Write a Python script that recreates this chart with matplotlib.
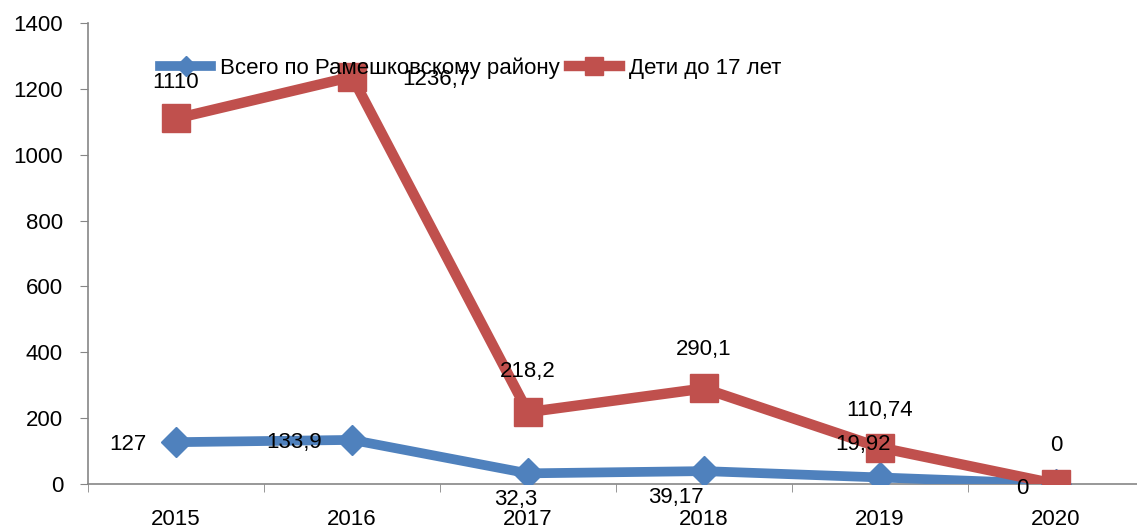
import matplotlib
matplotlib.use("Agg")
import matplotlib.pyplot as plt

plt.rcParams['font.family'] = ['Liberation Sans', 'DejaVu Sans']

years = ['2015', '2016', '2017', '2018', '2019', '2020']
total = [127, 133.9, 32.3, 39.17, 19.92, 0]
children = [1110, 1236.7, 218.2, 290.1, 110.74, 0]
total_labels = ['127', '133,9', '32,3', '39,17', '19,92', '0']
children_labels = ['1110', '1236,7', '218,2', '290,1', '110,74', '0']

blue = '#4F81BD'
red = '#C0504D'
grey = '#868686'

fig = plt.figure(figsize=(11.37, 5.28), dpi=100)
ax = fig.add_axes([88/1137, 1 - 484/528, 1056/1137, 461/528])

x = range(len(years))
ax.plot(x, total, color=blue, lw=7, marker='D', ms=15, mec=blue, mfc=blue,
        label='Всего по Рамешковскому району', zorder=3)
ax.plot(x, children, color=red, lw=7.5, marker='s', ms=20, mec=red, mfc=red,
        label='Дети до 17 лет', zorder=3)

# data label offsets in points
t_off = [(-35, -2), (-42, -2), (-9, -19), (-20, -19), (-12, 24), (-24, -3)]
c_off = [(0, 26), (61, -2), (0, 29), (0, 28), (0, 27), (0, 28)]
for i in x:
    ax.annotate(total_labels[i], (i, total[i]), xytext=t_off[i], textcoords='offset points',
                ha='center', va='center', fontsize=16, zorder=5)
    ax.annotate(children_labels[i], (i, children[i]), xytext=c_off[i], textcoords='offset points',
                ha='center', va='center', fontsize=16, zorder=5)

ax.set_xlim(-0.5, 5.5)
ax.set_ylim(0, 1400)
ax.set_yticks(range(0, 1401, 200))
ax.set_xticks(list(x))
ax.set_xticklabels(years)
ax.set_xticks([k + 0.5 for k in range(-1, 6)], minor=True)
ax.tick_params(axis='x', which='major', length=0, labelsize=16, pad=18)
ax.tick_params(axis='x', which='minor', length=6, color=grey, direction='out')
ax.tick_params(axis='y', length=6, color=grey, labelsize=16, pad=12)

for s in ['top', 'right']:
    ax.spines[s].set_visible(False)
for s in ['left', 'bottom']:
    ax.spines[s].set_color(grey)
    ax.spines[s].set_linewidth(1.2)

fig.legend(loc='center left', bbox_to_anchor=(160/1137, 1 - 68/528), ncol=2, frameon=False,
           fontsize=16, handlelength=2.3, handletextpad=0.4, columnspacing=0.4,
           markerscale=0.65, borderaxespad=0, borderpad=0)

fig.savefig('out.png', dpi=100)
